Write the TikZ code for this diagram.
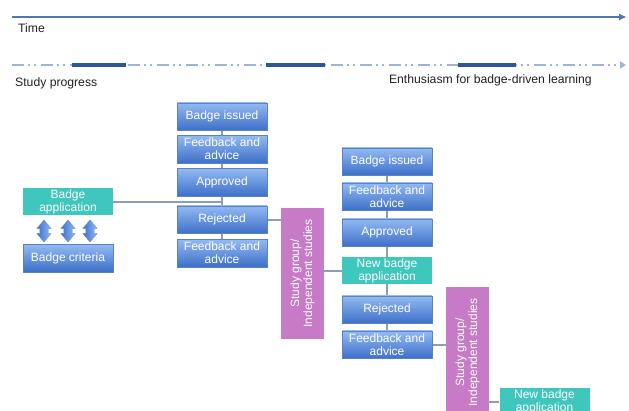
\documentclass[tikz,border=0pt]{standalone}
\usepackage{fontspec}
\setmainfont{Liberation Sans}
\usetikzlibrary{shapes.arrows,arrows.meta,backgrounds}
\definecolor{bluetop}{HTML}{93BAF2}
\definecolor{bluebot}{HTML}{3E70C8}
\definecolor{blueedge}{HTML}{5A82C4}
\definecolor{tealc}{HTML}{3FC6BD}
\definecolor{pinkc}{HTML}{C77AC6}
\definecolor{connc}{HTML}{8E9EB2}
\definecolor{timec}{HTML}{4F77B5}
\definecolor{dashc}{HTML}{9DB4D8}
\definecolor{thickc}{HTML}{2F5596}
\definecolor{txtc}{HTML}{222222}
\begin{document}
\begin{tikzpicture}[x=1pt,y=-1pt,
  boxfont/.style={font=\fontsize{12}{13.2}\selectfont},
  bluebox/.style={rectangle, top color=bluetop, bottom color=bluebot, draw=blueedge, line width=0.4pt,
    minimum width=90pt, minimum height=27.5pt, inner sep=1pt, align=center, text=white, boxfont},
  tealbox/.style={rectangle, fill=tealc, minimum width=90pt, minimum height=27.5pt, inner sep=1pt,
    align=center, text=white, boxfont},
  pinkbox/.style={rectangle, fill=pinkc, minimum width=131pt, minimum height=43pt, inner sep=1pt,
    align=center, text=white, boxfont, rotate=90},
  dblarrow/.style={double arrow, rotate=90, right color=bluetop, left color=bluebot,
    draw=blueedge, line width=0.3pt, minimum height=22pt, inner xsep=0pt, inner ysep=4pt,
    double arrow head extend=3pt, double arrow tip angle=80},
  conn/.style={draw=connc, line width=2pt},
  label/.style={anchor=west, text=txtc, font=\fontsize{12.2}{14}\selectfont, inner sep=0pt}
]
\useasboundingbox (0,0) rectangle (629,410);
\begin{scope}[on background layer]
\fill[white] (0,0) rectangle (629,410);
\end{scope}
\clip (0,0) rectangle (629,410);

% time line
\coordinate (t0) at (12,17);
\coordinate (t1) at (626,17);
\draw[timec, line width=1.6pt, -{Triangle[length=7pt,width=6pt]}] (t0) -- (t1);
\node[label] (time) at (18,28) {Time};

% study progress line
\coordinate (s0) at (12,65);
\coordinate (s1) at (626,65);
\draw[dashc, line width=2.4pt, dash pattern=on 12pt off 4pt on 2pt off 4pt on 2pt off 5pt, -{Triangle[length=6pt,width=7pt]}] (s0) -- (s1);
\coordinate (a0) at (72,65); \coordinate (a1) at (126,65);
\coordinate (b0) at (266,65); \coordinate (b1) at (325,65);
\coordinate (c0) at (458,65); \coordinate (c1) at (516,65);
\draw[thickc, line width=3.8pt] (a0) -- (a1) (b0) -- (b1) (c0) -- (c1);
\node[label] (sp) at (15,83) {Study progress};
\node[label, anchor=east] (en) at (592,80) {Enthusiasm for badge-driven learning};

% column 1
\node[bluebox] (bi1) at (222,116.5) {Badge issued};
\node[bluebox] (fa1) at (222,149) {Feedback and\\advice};
\node[bluebox] (ap1) at (222,182) {Approved};
\node[bluebox] (rj1) at (222,219.5) {Rejected};
\node[bluebox] (fb1) at (222,253) {Feedback and\\advice};

\node[tealbox] (ba) at (68,201.5) {Badge\\application};
\node[bluebox] (bc) at (68,258) {Badge criteria};
\node[dblarrow] (d1) at (44,231) {};
\node[dblarrow] (d2) at (68,231) {};
\node[dblarrow] (d3) at (90,231) {};

\node[pinkbox] (sg1) at (302.5,273.5) {Study group/\\Independent studies};

% column 2
\node[bluebox] (bi2) at (387,161.5) {Badge issued};
\node[bluebox] (fa2) at (387,196.5) {Feedback and\\advice};
\node[bluebox] (ap2) at (387,232.5) {Approved};
\node[tealbox] (nb2) at (387,270.5) {New badge\\application};
\node[bluebox] (rj2) at (387,309.5) {Rejected};
\node[bluebox] (fb2) at (387,344.5) {Feedback and\\advice};

\node[pinkbox] (sg2) at (467.5,352.5) {Study group/\\Independent studies};
\node[tealbox] (nb3) at (544.5,401.5) {New badge\\application};

\begin{scope}[on background layer]
  \draw[conn] (bi1) -- (fa1) -- (ap1) -- (rj1) -- (fb1);
  \draw[conn] (ba.east) -| (ap1.south);
  \draw[conn] (rj1.east) -- (rj1.east -| sg1.north);
  \draw[conn] (nb2.west) -- (nb2.west -| sg1.south);
  \draw[conn] (bi2) -- (fa2) -- (ap2) -- (nb2) -- (rj2) -- (fb2);
  \draw[conn] (fb2.east) -- (fb2.east -| sg2.north);
  \draw[conn] (nb3.west) -- (nb3.west -| sg2.south);
\end{scope}
\end{tikzpicture}
\end{document}
